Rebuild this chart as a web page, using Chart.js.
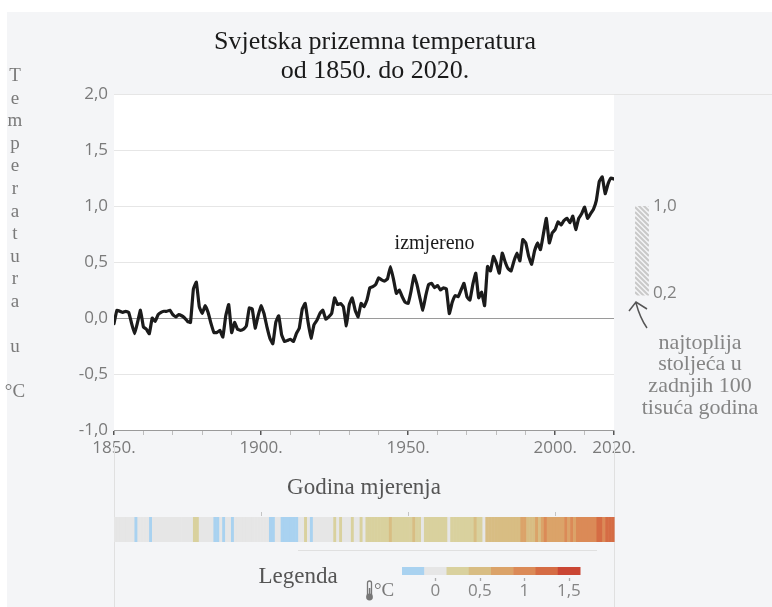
<!DOCTYPE html>
<html>
<head>
<meta charset="utf-8">
<script src="https://cdn.jsdelivr.net/npm/chart.js@4.4.1/dist/chart.umd.min.js"></script>
<style>
  html, body { margin: 0; padding: 0; background: #fff; }
  #wrap { position: relative; width: 772px; height: 607px; }
</style>
</head>
<body>
<div id="wrap"><canvas id="chart" width="772" height="607"></canvas></div>
<script>
// anomalija u odnosu na 1850.-1900. (°C), jedna vrijednost po godini od 1850.
const firstYear = 1850;
const temps = [
  -0.05, 0.07, 0.06, 0.05, 0.06, 0.05, -0.05, -0.14, -0.04, 0.07,  // 1850-ih
  -0.08, -0.10, -0.14, 0.00, -0.03, 0.03, 0.05, 0.06, 0.06, 0.07,  // 1860-ih
  0.03, 0.01, 0.03, 0.02, 0.00, -0.03, -0.04, 0.26, 0.32, 0.10,    // 1870-ih
  0.04, 0.11, 0.05, -0.05, -0.13, -0.13, -0.11, -0.17, 0.02, 0.12, // 1880-ih
  -0.13, -0.04, -0.10, -0.11, -0.10, -0.07, 0.09, 0.08, -0.09, 0.02, // 1890-ih
  0.11, 0.04, -0.08, -0.18, -0.23, -0.04, 0.02, -0.15, -0.21, -0.20, // 1900-ih
  -0.19, -0.21, -0.14, -0.09, 0.08, 0.13, -0.04, -0.18, -0.06, -0.02, // 1910-ih
  0.04, 0.07, -0.01, 0.01, 0.04, 0.18, 0.12, 0.13, 0.10, -0.07,    // 1920-ih
  0.12, 0.18, 0.07, 0.01, 0.13, 0.10, 0.16, 0.27, 0.28, 0.30,      // 1930-ih
  0.36, 0.34, 0.33, 0.35, 0.46, 0.35, 0.22, 0.25, 0.19, 0.14,      // 1940-ih
  0.13, 0.24, 0.38, 0.30, 0.18, 0.07, 0.20, 0.30, 0.31, 0.27,      // 1950-ih
  0.29, 0.25, 0.27, 0.26, 0.04, 0.14, 0.20, 0.19, 0.25, 0.31,      // 1960-ih
  0.19, 0.16, 0.30, 0.40, 0.18, 0.23, 0.11, 0.46, 0.42, 0.55,      // 1970-ih
  0.49, 0.40, 0.58, 0.50, 0.44, 0.42, 0.51, 0.58, 0.51, 0.70,      // 1980-ih
  0.67, 0.55, 0.48, 0.60, 0.67, 0.61, 0.75, 0.89, 0.67, 0.76,      // 1990-ih
  0.79, 0.86, 0.83, 0.87, 0.89, 0.85, 0.91, 0.79, 0.89, 0.93,      // 2000-ih
  0.99, 0.89, 0.93, 0.97, 1.05, 1.22, 1.26, 1.11, 1.20, 1.25,      // 2010-ih
  1.24                                                             // 2020.
];

const labeledYears = [1850, 1900, 1950, 2000, 2020];
const stripeTickYears = [1900, 1950, 2000];

// najtoplija stoljeća u zadnjih 100 tisuća godina
const warmestRange = [0.2, 1.0];

// legenda: granice razreda i boje
const binEdges = [-0.375, -0.125, 0.125, 0.375, 0.625, 0.875, 1.125, 1.375, 1.625];
const binColors = ['#a9d2f0', '#e6e6e6', '#d9d19e', '#d8bd83', '#dba369', '#db8a57', '#d56c44', '#ca4634'];
const legendTicks = [0, 0.5, 1, 1.5];
const legendTickLabels = ['0', '0,5', '1', '1,5'];

const yTitleLetters = ['T', 'e', 'm', 'p', 'e', 'r', 'a', 't', 'u', 'r', 'a', '', 'u', '', '°C'];
const noteLines = ['najtoplija', 'stoljeća u', 'zadnjih 100', 'tisuća godina'];

const SERIF = '"Liberation Serif", "Times New Roman", serif';
const SANS = '"Open Sans", sans-serif';

function binColor(v) {
  for (let i = 0; i < binColors.length; i++) {
    if (v < binEdges[i + 1]) return binColors[i];
  }
  return binColors[binColors.length - 1];
}

const decor = {
  id: 'decor',
  beforeDraw(chart) {
    const { ctx, chartArea: a } = chart;
    ctx.save();
    ctx.fillStyle = '#ffffff';
    ctx.fillRect(0, 0, chart.width, chart.height);
    ctx.fillStyle = '#f4f5f7';
    ctx.fillRect(7, 12, chart.width - 7, chart.height - 12);
    ctx.fillStyle = '#ffffff';
    ctx.fillRect(a.left, a.top, a.width, a.height);
    ctx.restore();
  },
  afterDraw(chart) {
    const { ctx, chartArea: a, scales: { x, y } } = chart;
    ctx.save();

    // naslov
    ctx.fillStyle = '#1a1a1a';
    ctx.font = '26px ' + SERIF;
    ctx.textAlign = 'center';
    ctx.textBaseline = 'middle';
    ctx.fillText('Svjetska prizemna temperatura', 375, 42);
    ctx.fillText('od 1850. do 2020.', 375, 71);

    // okomiti naziv osi y
    ctx.fillStyle = '#7a7a7a';
    ctx.font = '19px ' + SERIF;
    yTitleLetters.forEach((ch, i) => {
      if (ch) ctx.fillText(ch, 15, 76 + i * 22.6);
    });

    // izmjereno
    ctx.fillStyle = '#1a1a1a';
    ctx.font = '20px ' + SERIF;
    ctx.fillText('izmjereno', x.getPixelForValue(1959), y.getPixelForValue(0.66));

    // desni panel
    ctx.strokeStyle = '#e4e4e4';
    ctx.lineWidth = 1;
    ctx.beginPath();
    ctx.moveTo(a.right, Math.round(a.top) + 0.5);
    ctx.lineTo(chart.width, Math.round(a.top) + 0.5);
    ctx.stroke();

    const yTop = y.getPixelForValue(warmestRange[1]);
    const yBot = y.getPixelForValue(warmestRange[0]);
    const bx = a.right + 21, bw = 14;
    ctx.save();
    ctx.beginPath();
    ctx.rect(bx, yTop, bw, yBot - yTop);
    ctx.clip();
    ctx.strokeStyle = '#c9c9c9';
    ctx.lineWidth = 2;
    for (let k = yTop - bw; k < yBot + bw; k += 5) {
      ctx.beginPath();
      ctx.moveTo(bx, k);
      ctx.lineTo(bx + bw, k + bw);
      ctx.stroke();
    }
    ctx.restore();

    ctx.fillStyle = '#808080';
    ctx.font = '17px ' + SANS;
    ctx.textAlign = 'left';
    ctx.fillText('1,0', bx + bw + 4, yTop);
    ctx.fillText('0,2', bx + bw + 4, yBot - 2);

    // strelica
    ctx.strokeStyle = '#555';
    ctx.lineWidth = 1.5;
    ctx.beginPath();
    ctx.moveTo(629, 311);
    ctx.lineTo(636, 302);
    ctx.lineTo(647, 309);
    ctx.moveTo(636, 303);
    ctx.quadraticCurveTo(640, 318, 647, 328);
    ctx.stroke();

    ctx.fillStyle = '#858585';
    ctx.font = '22px ' + SERIF;
    ctx.textAlign = 'center';
    noteLines.forEach((t, i) => ctx.fillText(t, 700, 343 + i * 21.7));

    // donji dio: okomite crte
    ctx.strokeStyle = '#e0e0e0';
    ctx.lineWidth = 1;
    [a.left, a.right].forEach(px => {
      ctx.beginPath();
      ctx.moveTo(Math.round(px) + 0.5, 443);
      ctx.lineTo(Math.round(px) + 0.5, chart.height);
      ctx.stroke();
    });
    ctx.beginPath();
    ctx.moveTo(298, 550.5);
    ctx.lineTo(597, 550.5);
    ctx.stroke();

    // trake godišnjih temperatura
    const n = temps.length;
    const x0 = x.getPixelForValue(firstYear);
    const x1 = x.getPixelForValue(firstYear + n - 1);
    const sw = (x1 - x0) / n;
    temps.forEach((t, i) => {
      ctx.fillStyle = binColor(t);
      ctx.fillRect(x0 + i * sw, 517, sw + 0.6, 25);
    });
    ctx.strokeStyle = '#c4c4c4';
    stripeTickYears.forEach(yr => {
      const px = Math.round(x.getPixelForValue(yr)) + 0.5;
      ctx.beginPath();
      ctx.moveTo(px, 512);
      ctx.lineTo(px, 516);
      ctx.stroke();
    });

    // legenda
    ctx.fillStyle = '#555';
    ctx.font = '23px ' + SERIF;
    ctx.textAlign = 'center';
    ctx.fillText('Legenda', 298, 577);

    // termometar
    ctx.fillStyle = '#777';
    ctx.strokeStyle = '#777';
    ctx.lineWidth = 1.3;
    ctx.beginPath();
    ctx.moveTo(367.5, 595);
    ctx.lineTo(367.5, 583);
    ctx.arc(369.5, 583, 2, Math.PI, 0);
    ctx.lineTo(371.5, 595);
    ctx.stroke();
    ctx.beginPath();
    ctx.arc(369.5, 597, 3.4, 0, Math.PI * 2);
    ctx.fill();
    ctx.fillRect(368.8, 588, 1.6, 8);
    ctx.font = '19px ' + SERIF;
    ctx.textAlign = 'left';
    ctx.fillText('°C', 374, 591);

    const lx0 = 402, lx1 = 580;
    const lx = v => lx0 + (v - binEdges[0]) / (binEdges[binEdges.length - 1] - binEdges[0]) * (lx1 - lx0);
    binColors.forEach((c, i) => {
      ctx.fillStyle = c;
      ctx.fillRect(lx(binEdges[i]), 567, lx(binEdges[i + 1]) - lx(binEdges[i]) + 0.5, 8);
    });
    ctx.fillStyle = '#858585';
    ctx.font = '17px ' + SANS;
    ctx.textAlign = 'center';
    ctx.strokeStyle = '#aaa';
    legendTicks.forEach((v, i) => {
      ctx.fillText(legendTickLabels[i], lx(v), 591);
      ctx.beginPath();
      ctx.moveTo(Math.round(lx(v)) + 0.5, 578);
      ctx.lineTo(Math.round(lx(v)) + 0.5, 581);
      ctx.stroke();
    });

    ctx.restore();
  }
};

new Chart(document.getElementById('chart'), {
  type: 'line',
  data: {
    datasets: [{
      data: temps.map((t, i) => ({ x: firstYear + i, y: t })),
      borderColor: '#1b1b1b',
      borderWidth: 3.2,
      pointRadius: 0,
      tension: 0.1,
      borderJoinStyle: 'round',
      borderCapStyle: 'round'
    }]
  },
  options: {
    responsive: false,
    animation: false,
    layout: { padding: { top: 94, left: 0, right: 158, bottom: 101 } },
    plugins: { legend: { display: false }, tooltip: { enabled: false } },
    scales: {
      x: {
        type: 'linear',
        min: 1850,
        max: 2020,
        afterFit(scale) { scale.height = 76; },
        border: { display: true, color: '#9a9a9a', width: 1 },
        grid: {
          drawOnChartArea: false,
          drawTicks: true,
          tickLength: 5,
          color: c => labeledYears.includes(c.tick.value) ? '#555' : '#bdbdbd',
          lineWidth: c => labeledYears.includes(c.tick.value) ? 1.5 : 1
        },
        ticks: {
          stepSize: 10,
          autoSkip: false,
          maxRotation: 0,
          padding: 3,
          color: '#7a7a7a',
          font: { family: SANS, size: 17 },
          callback: v => labeledYears.includes(v) ? v + '.' : ''
        },
        title: {
          display: true,
          text: 'Godina mjerenja',
          color: '#555',
          font: { family: SERIF, size: 23 },
          padding: { top: 4, bottom: 4 }
        }
      },
      y: {
        min: -1,
        max: 2,
        afterFit(scale) { scale.width = 114; },
        border: { display: false },
        grid: {
          drawTicks: false,
          color: c => c.tick.value === 0 ? '#9a9a9a' : '#e6e6e6',
          lineWidth: 1
        },
        ticks: {
          stepSize: 0.5,
          padding: 6,
          color: '#7a7a7a',
          font: { family: SANS, size: 17 },
          callback: v => v.toFixed(1).replace('.', ',')
        }
      }
    }
  },
  plugins: [decor]
});
</script>
</body>
</html>
